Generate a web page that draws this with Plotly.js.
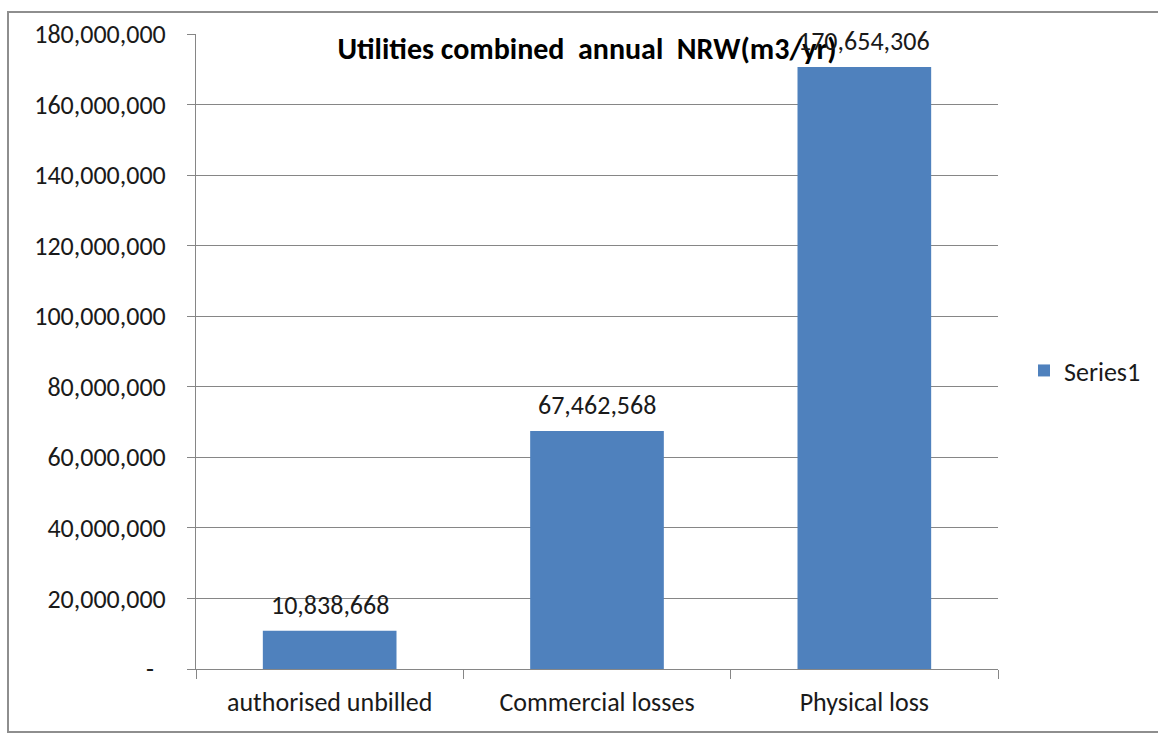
<!DOCTYPE html>
<html>
<head>
<meta charset="utf-8">
<script src="https://cdn.plot.ly/plotly-3.0.1.min.js"></script>
<style>
  html, body { margin: 0; padding: 0; background: #ffffff; }
  #chart { width: 1158px; height: 736px; position: relative; }
  #frame {
    position: absolute; left: 7px; top: 11px; width: 1160px; height: 722px;
    border: 2px solid #8e8e8e; box-sizing: border-box; pointer-events: none;
  }
</style>
</head>
<body>
<div id="chart"></div>
<div id="frame"></div>
<script>
// Annual non-revenue water per component, m3/yr
const categories = ['authorised unbilled', 'Commercial losses', 'Physical loss'];
const nrwValues = [10838668, 67462568, 170654306];

// Value axis ticks (zero is shown as an accounting-style dash)
const yTickVals = [0, 20000000, 40000000, 60000000, 80000000, 100000000, 120000000, 140000000, 160000000, 180000000];
const yTickText = ['-\u00a0\u00a0', '20,000,000', '40,000,000', '60,000,000', '80,000,000', '100,000,000', '120,000,000', '140,000,000', '160,000,000', '180,000,000'];

const FONT = 'Carlito, "Open Sans", "Noto Sans", sans-serif';
const GRID = '#868686';
const TEXT = '#1a1a1a';
const SIZE = 26;

const barTrace = {
  type: 'bar',
  name: 'Series1',
  x: categories,
  y: nrwValues,
  width: 0.5,
  marker: { color: '#4f81bd', line: { width: 0 } },
  hoverinfo: 'x+y'
};

// Value labels above each bar
const valueLabels = categories.map((c, i) => ({
  x: c,
  y: nrwValues[i],
  xref: 'x',
  yref: 'y',
  text: nrwValues[i].toLocaleString('en-US'),
  showarrow: false,
  yanchor: 'bottom',
  yshift: 8,
  font: { family: FONT, size: SIZE, color: TEXT }
}));

const layout = {
  width: 1158,
  height: 736,
  margin: { l: 196, r: 160, t: 34, b: 67 },
  paper_bgcolor: '#ffffff',
  plot_bgcolor: '#ffffff',
  font: { family: FONT, size: SIZE, color: TEXT },
  title: {
    text: '<b>Utilities combined  annual  NRW(m3/yr)</b>',
    font: { family: FONT, size: 30, color: '#000000' },
    xref: 'paper',
    x: (587 - 196) / 802,
    xanchor: 'center',
    yref: 'container',
    y: 1 - 48 / 736,
    yanchor: 'middle'
  },
  xaxis: {
    type: 'category',
    range: [-0.5, 2.5],
    showline: true,
    linecolor: GRID,
    linewidth: 1,
    ticks: 'outside',
    tickson: 'boundaries',
    ticklen: 9,
    tickcolor: GRID,
    showgrid: false,
    ticklabelstandoff: 10,
    tickfont: { family: FONT, size: SIZE, color: TEXT },
    fixedrange: true
  },
  yaxis: {
    range: [0, 180000000],
    tickmode: 'array',
    tickvals: yTickVals,
    ticktext: yTickText,
    showline: true,
    linecolor: GRID,
    linewidth: 1,
    ticks: 'outside',
    ticklen: 8,
    tickcolor: GRID,
    showgrid: true,
    gridcolor: GRID,
    gridwidth: 1,
    zeroline: false,
    ticklabelstandoff: 16,
    tickfont: { family: FONT, size: SIZE, color: TEXT },
    fixedrange: true
  },
  showlegend: true,
  legend: {
    x: (1024 - 196) / 802,
    xanchor: 'left',
    y: 0.47,
    yanchor: 'middle',
    font: { family: FONT, size: SIZE, color: TEXT },
    bgcolor: 'rgba(0,0,0,0)',
    itemwidth: 30
  },
  annotations: valueLabels
};

Plotly.newPlot('chart', [barTrace], layout, { displayModeBar: false, staticPlot: true });
</script>
</body>
</html>
